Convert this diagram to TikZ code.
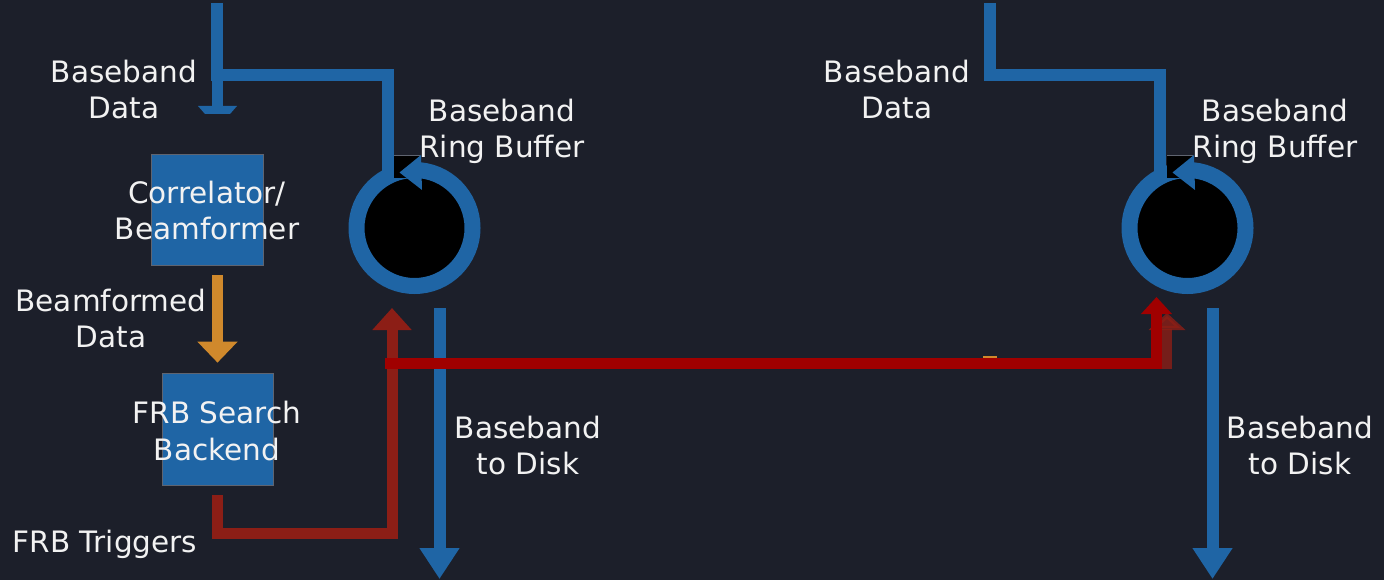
\documentclass[tikz,border=0pt]{standalone}
\usepackage{fontspec}
\setmainfont{DejaVu Sans}
\usetikzlibrary{arrows.meta,calc}
\definecolor{bg}{RGB}{28,31,42}
\definecolor{cblue}{RGB}{31,101,165}
\definecolor{corange}{RGB}{208,137,44}
\definecolor{cdred}{RGB}{140,30,22}
\definecolor{cred}{RGB}{160,0,0}
\definecolor{seam}{RGB}{95,100,112}
\definecolor{ctext}{RGB}{242,242,242}
\begin{document}
\begin{tikzpicture}[x=1pt,y=-1pt,
  lbl/.style={text=ctext, font=\fontsize{29.5}{36}\selectfont, align=center, inner sep=0pt},
  procbox/.style={fill=cblue, draw=seam, line width=0.7pt, inner sep=0pt},
  flow/.style={line width=11pt, line cap=butt, line join=miter},
  ringnode/.style={circle, fill=black, draw=cblue, line width=16pt, minimum size=116pt, inner sep=0pt},
]
\useasboundingbox (0,0) rectangle (1384,580);
\fill[bg] (0,0) rectangle (1384,580);

% ---------- boxes ----------
\node[procbox, minimum width=112pt, minimum height=111pt] (corr) at (207,209.5) {};
\node[procbox, minimum width=111pt, minimum height=112pt] (frb) at (217.5,429) {};

% ---------- rings ----------
\node[ringnode] (ringL) at (414.5,228) {};
\fill[black] (394,155) rectangle (420,178);
\draw[seam, line width=0.6pt] (394,155) -- (420,155);
\fill[cblue] (421,155) -- (422,190) -- (399.5,172.5) -- cycle;

\node[ringnode] (ringR) at (1187.5,228) {};
\fill[black] (1167,155) rectangle (1193,178);
\draw[seam, line width=0.6pt] (1167,155) -- (1193,155);
\fill[cblue] (1194,155) -- (1195,190) -- (1172.5,172.5) -- cycle;

% ---------- coordinates ----------
\coordinate (inL) at (217,3);
\coordinate (cornL) at (387.5,75);
\coordinate (joinL) at (387.5,179);
\coordinate (brL) at (217,75);
\coordinate (endL) at (217,107);
\coordinate (inR) at (990,3);
\coordinate (cornR) at (1160,75);
\coordinate (joinR) at (1160,179);
\coordinate (dskLs) at (439.5,308);
\coordinate (dskLe) at (439.5,579);
\coordinate (dskRs) at (1212.5,308);
\coordinate (dskRe) at (1212.5,579);
\coordinate (trigC) at (392,533.5);
\coordinate (trigTip) at (392,308);
\coordinate (redS) at (385,363.5);
\coordinate (redTip) at (1156.5,297);
\coordinate (dredS) at (1167,369);
\coordinate (dredTip) at (1167,313);

% ---------- blue input lines ----------
\draw[flow, cblue, line width=12pt] (inL) |- (cornL) -- (joinL);
\draw[flow, cblue] (brL) -- (endL);
\fill[cblue] (198,106) -- (237,106) -- (230,114) -- (205,114) -- cycle;
\draw[flow, cblue, line width=12pt] (inR) |- (cornR) -- (joinR);

% ---------- orange arrow ----------
\draw[flow, corange, -{Triangle[width=39pt,length=21pt]}]
  ($(frb.north |- corr.south)+(0,10)$) -- ($(frb.north)+(0,-10)$);

% ---------- baseband to disk ----------
\draw[flow, cblue, line width=12pt, -{Triangle[width=38pt,length=31pt]}] (dskLs) -- (dskLe);
\draw[flow, cblue, line width=12pt, -{Triangle[width=38pt,length=31pt]}] (dskRs) -- (dskRe);

% ---------- triggers ----------
\draw[flow, cdred, -{Triangle[width=38pt,length=22pt]}]
  ($(frb.south)+(0,10)$) |- (trigC) -- (trigTip);
\draw[flow, cdred, line width=10pt, opacity=0.8, -{Triangle[width=36pt,length=17pt]}] (dredS) -- (dredTip);
\draw[flow, cred, -{Triangle[width=30pt,length=17pt]}] (redS) -| (redTip);
\draw[corange, line width=2pt] (983,357) -- (997,357);

% ---------- labels ----------
\node[lbl] (tBDL) at (124,90) {Baseband\\Data};
\node[lbl] (tRBL) at (502,131) {Baseband\\Ring Buffer};
\node[lbl] (tCorr) at (207,211) {Correlator/\\Beamformer};
\node[lbl] (tBF) at (111,319) {Beamformed\\Data};
\node[lbl] (tFRB) at (217,431) {FRB Search\\Backend};
\node[lbl, anchor=base] (tTrig) at (105,552) {FRB Triggers};
\node[lbl] (tDiskL) at (528,445) {Baseband\\to Disk};
\node[lbl] (tBDR) at (897,90) {Baseband\\Data};
\node[lbl] (tRBR) at (1275,131) {Baseband\\Ring Buffer};
\node[lbl] (tDiskR) at (1300,445) {Baseband\\to Disk};
\end{tikzpicture}
\end{document}
